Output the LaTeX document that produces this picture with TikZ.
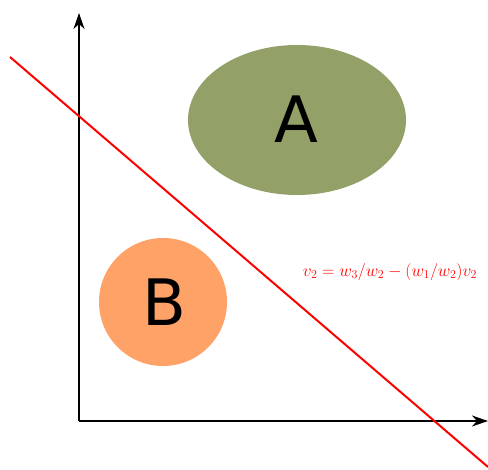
\documentclass[tikz,border=0pt]{standalone}
\usepackage{fontspec}
\newfontfamily\labfont{DejaVu Sans}
\usetikzlibrary{arrows.meta}
\definecolor{olive}{HTML}{93A068}
\definecolor{salmon}{HTML}{FFA268}
\tikzset{
  axis/.style={line width=2pt,-{Stealth[length=16pt,width=11pt,inset=5pt]}},
  setlab/.style={font=\labfont\fontsize{64}{68}\selectfont,text=black},
}
\begin{document}
\begin{tikzpicture}[x=1pt,y=-1pt]
\useasboundingbox (0,0) rectangle (488,470);
\fill[olive] (297,120) ellipse [x radius=109,y radius=75];
\fill[salmon] (163,302) circle [radius=64];
\node[setlab] (A) at (296,119) {A};
\node[setlab] (B) at (164,302) {B};
\coordinate (O) at (79,421);
\coordinate (Y) at (79,13);
\coordinate (X) at (488,421);
\draw[axis] (O) -- (Y);
\draw[axis] (O) -- (X);
\coordinate (L1) at (10,57);
\coordinate (L2) at (488,467);
\draw[red,line width=2pt] (L1) -- (L2);
\node[red,font=\fontsize{16.5}{19}\selectfont] (eq) at (390,272) {$v_2 = w_3/w_2 - (w_1/w_2)v_2$};
\end{tikzpicture}
\end{document}
